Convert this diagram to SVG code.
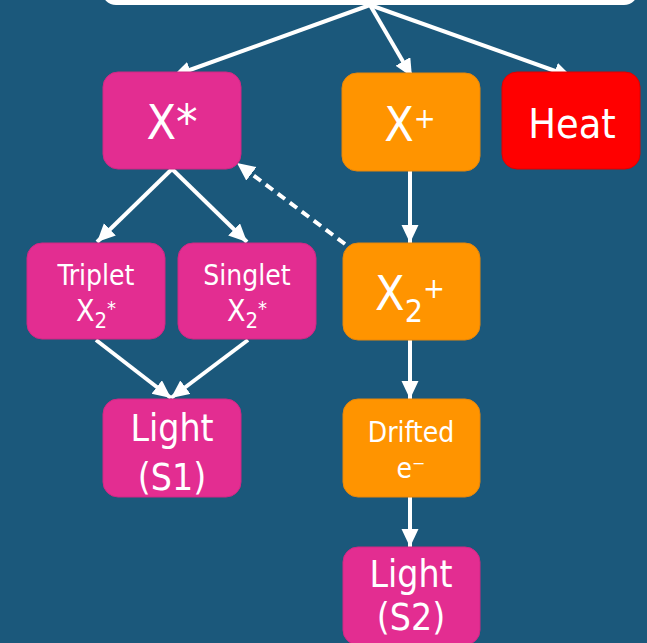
<svg xmlns="http://www.w3.org/2000/svg" width="647" height="643" viewBox="0 0 647 643">
<defs>
<style>
.bg{fill:#1B587B}
.pink{fill:#E32D91;stroke:#D02884;stroke-width:1}
.orange{fill:#FF9400;stroke:#E8870A;stroke-width:1}
.red{fill:#FF0000;stroke:#E00000;stroke-width:1}
.white{fill:#FFFFFF}
text{fill:#FFFFFF;font-family:"DejaVu Sans Condensed","DejaVu Sans",sans-serif;text-anchor:middle}
.big{font-size:48px}
.mid{font-size:37px}
.sm{font-size:28px}
.conn line{stroke:#FFFFFF;stroke-width:4;fill:none}
.dash{stroke-dasharray:9 6}
</style>
<marker id="ah" markerUnits="userSpaceOnUse" markerWidth="20" markerHeight="20" refX="18" refY="8.5" orient="auto">
<path d="M0,0 L18,8.5 L0,17 z" fill="#FFFFFF"/>
</marker>
</defs>
<rect class="bg" x="0" y="0" width="647" height="643"/>

<g id="top"><rect class="white" x="102" y="-60" width="536" height="65" rx="14"/></g>

<g id="connectors" class="conn">
<line x1="370" y1="5" x2="173" y2="76" marker-end="url(#ah)"/>
<line x1="370" y1="5" x2="412" y2="77" marker-end="url(#ah)"/>
<line x1="370" y1="5" x2="572" y2="77" marker-end="url(#ah)"/>
<line x1="172" y1="169" x2="97" y2="242" marker-end="url(#ah)"/>
<line x1="172" y1="169" x2="247" y2="242" marker-end="url(#ah)"/>
<line x1="96" y1="340" x2="171" y2="398" marker-end="url(#ah)"/>
<line x1="248" y1="340" x2="171" y2="398" marker-end="url(#ah)"/>
<line x1="410" y1="171" x2="410" y2="243" marker-end="url(#ah)"/>
<line x1="410" y1="340" x2="410" y2="399" marker-end="url(#ah)"/>
<line x1="410" y1="497" x2="410" y2="547" marker-end="url(#ah)"/>
<line class="dash" x1="345" y1="244" x2="237" y2="163" marker-end="url(#ah)"/>
</g>

<g id="xstar"><rect class="pink" x="103" y="72" width="138" height="97" rx="15"/>
<text class="big" x="172" y="139">X*</text></g>

<g id="xplus"><rect class="orange" x="342" y="73" width="138" height="98" rx="15"/>
<text class="big" x="410" y="141">X<tspan font-size="29" dy="-13">+</tspan></text></g>

<g id="heat"><rect class="red" x="502" y="72" width="138" height="97" rx="15"/>
<text x="572" y="138" font-size="41">Heat</text></g>

<g id="triplet"><rect class="pink" x="27" y="243" width="138" height="96" rx="15"/>
<text class="sm" x="96" y="285">Triplet</text>
<text x="96" y="321" font-size="30">X<tspan font-size="22" dy="7">2</tspan><tspan font-size="20" dy="-13">*</tspan></text></g>

<g id="singlet"><rect class="pink" x="178" y="243" width="138" height="96" rx="15"/>
<text class="sm" x="247" y="285">Singlet</text>
<text x="247" y="321" font-size="30">X<tspan font-size="22" dy="7">2</tspan><tspan font-size="20" dy="-13">*</tspan></text></g>

<g id="x2plus"><rect class="orange" x="343" y="243" width="137" height="97" rx="15"/>
<text class="big" x="410" y="310">X<tspan font-size="32" dy="12">2</tspan><tspan font-size="29" dy="-24.5">+</tspan></text></g>

<g id="light1"><rect class="pink" x="103" y="399" width="138" height="98" rx="15"/>
<text class="mid" x="172" y="441">Light</text>
<text class="mid" x="172" y="490">(S1)</text></g>

<g id="drifted"><rect class="orange" x="343" y="399" width="137" height="98" rx="15"/>
<text class="sm" x="411" y="442">Drifted</text>
<text class="sm" x="411" y="478">e⁻</text></g>

<g id="light2"><rect class="pink" x="343" y="547" width="137" height="98" rx="15"/>
<text class="mid" x="411" y="587">Light</text>
<text class="mid" x="411" y="630">(S2)</text></g>
</svg>
